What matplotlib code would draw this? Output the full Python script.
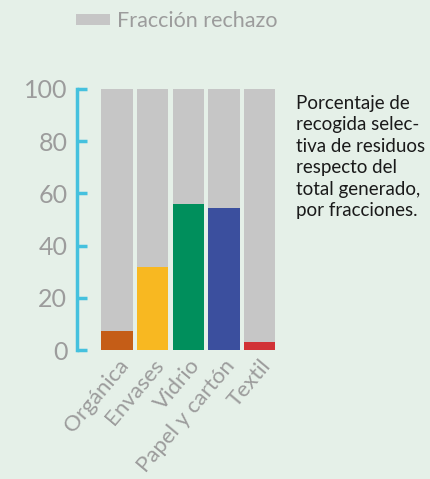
import matplotlib.pyplot as plt
import numpy as np

# Datos
fracciones = ['Orgánica', 'Envases', 'Vidrio', 'Papel y cartón', 'Textil']
selectiva = [7.3, 31.9, 55.8, 54.4, 3.2]
total = [100, 100, 100, 100, 100]
colores = ['#C55D17', '#F8B821', '#008F5C', '#3B4F9E', '#D13236']

fondo = '#E5F0E8'
gris = '#9C9C9C'
cian = '#45C1DE'

plt.rcParams['font.family'] = ['Lato', 'DejaVu Sans']

fig = plt.figure(figsize=(4.31, 4.79), dpi=100, facecolor=fondo)
ax = fig.add_axes([77 / 431, 1 - 350 / 479, (280 - 77) / 431, 261 / 479])
ax.set_facecolor(fondo)

x = np.arange(len(fracciones))
ax.bar(x, total, width=0.88, color='#C6C6C6', label='Fracción rechazo')
ax.bar(x, selectiva, width=0.88, color=colores)

ax.set_xlim(-1.125, 4.57)
ax.set_ylim(0, 100)
ax.set_yticks([0, 20, 40, 60, 80, 100])

for s in ['top', 'right', 'bottom']:
    ax.spines[s].set_visible(False)
ax.spines['left'].set_color(cian)
ax.spines['left'].set_linewidth(2.5)
ax.tick_params(axis='y', direction='in', length=7, width=2.5, color=cian,
               labelcolor=gris, labelsize=18, pad=7)
ax.tick_params(axis='x', length=0, labelcolor=gris, labelsize=16, pad=4)
ax.set_xticks(x)
ax.set_xticklabels(fracciones, rotation=50, ha='right', va='top',
                   rotation_mode='anchor')

# Leyenda arriba
leg = fig.legend(handles=[ax.patches[0]], labels=['Fracción rechazo'],
                 loc='center left', bbox_to_anchor=(76 / 431, 1 - 21 / 479),
                 frameon=False, borderpad=0, borderaxespad=0,
                 handlelength=1.6, handleheight=0.4,
                 handletextpad=0.3, fontsize=15.5)
for t in leg.get_texts():
    t.set_color(gris)

fig.text(296 / 431, 1 - 95 / 479,
         'Porcentaje de\nrecogida selec-\ntiva de residuos\nrespecto del\ntotal generado,\npor fracciones.',
         ha='left', va='top', fontsize=13.5, color='#1A1A1A', linespacing=1.32)

plt.savefig('out.png', dpi=100, facecolor=fondo)
